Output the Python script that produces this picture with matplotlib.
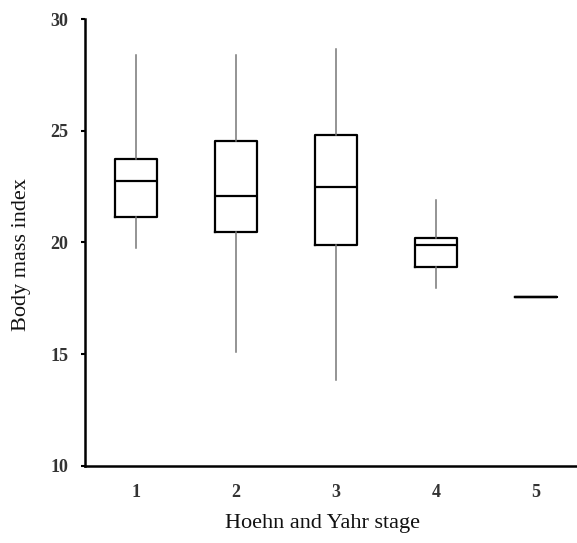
import matplotlib
matplotlib.use('Agg')
import matplotlib.pyplot as plt

# Box statistics (BMI by Hoehn and Yahr stage)
stages = ['1', '2', '3', '4', '5']
whisker_low = [19.75, 15.1, 13.85, 17.95, 17.56]
q1 = [21.15, 20.45, 19.9, 18.9, 17.56]
medians = [22.75, 22.08, 22.5, 19.87, 17.56]
q3 = [23.75, 24.55, 24.82, 20.22, 17.56]
whisker_high = [28.4, 28.4, 28.65, 21.9, 17.56]

plt.rcParams['font.family'] = ['Liberation Serif', 'DejaVu Serif']

stats = []
for i, name in enumerate(stages):
    stats.append({'label': name, 'whislo': whisker_low[i], 'q1': q1[i],
                  'med': medians[i], 'q3': q3[i], 'whishi': whisker_high[i],
                  'fliers': []})

fig = plt.figure(figsize=(5.77, 5.43), dpi=100)
ax = fig.add_axes([0.147, 0.142, 0.853, 0.823])

ax.bxp(stats, positions=range(1, len(stages) + 1), widths=0.42,
       showcaps=False, showfliers=False,
       boxprops=dict(color='black', linewidth=1.6),
       medianprops=dict(color='black', linewidth=1.6),
       whiskerprops=dict(color='#777777', linewidth=1.1))

ax.set_xlim(0.49, 5.41)
ax.set_ylim(10, 30)
ax.set_yticks([10, 15, 20, 25, 30])
ax.set_xticks(range(1, len(stages) + 1))
ax.set_xticklabels(stages)

for side in ['top', 'right']:
    ax.spines[side].set_visible(False)
for side in ['left', 'bottom']:
    ax.spines[side].set_linewidth(1.8)

ax.tick_params(axis='y', length=3, width=1.5, labelsize=13, pad=9)
ax.tick_params(axis='x', length=0, labelsize=13, pad=13)
for lbl in ax.get_xticklabels() + ax.get_yticklabels():
    lbl.set_fontweight('bold')
    lbl.set_color('#333333')

ax.set_xlabel('Hoehn and Yahr stage', fontsize=16, color='#111111')
ax.xaxis.set_label_coords(0.482, -0.108)
ax.set_ylabel('Body mass index', fontsize=16, color='#111111')
ax.yaxis.set_label_coords(-0.11, 0.474)

plt.savefig('out.png', dpi=100)
plt.close()
